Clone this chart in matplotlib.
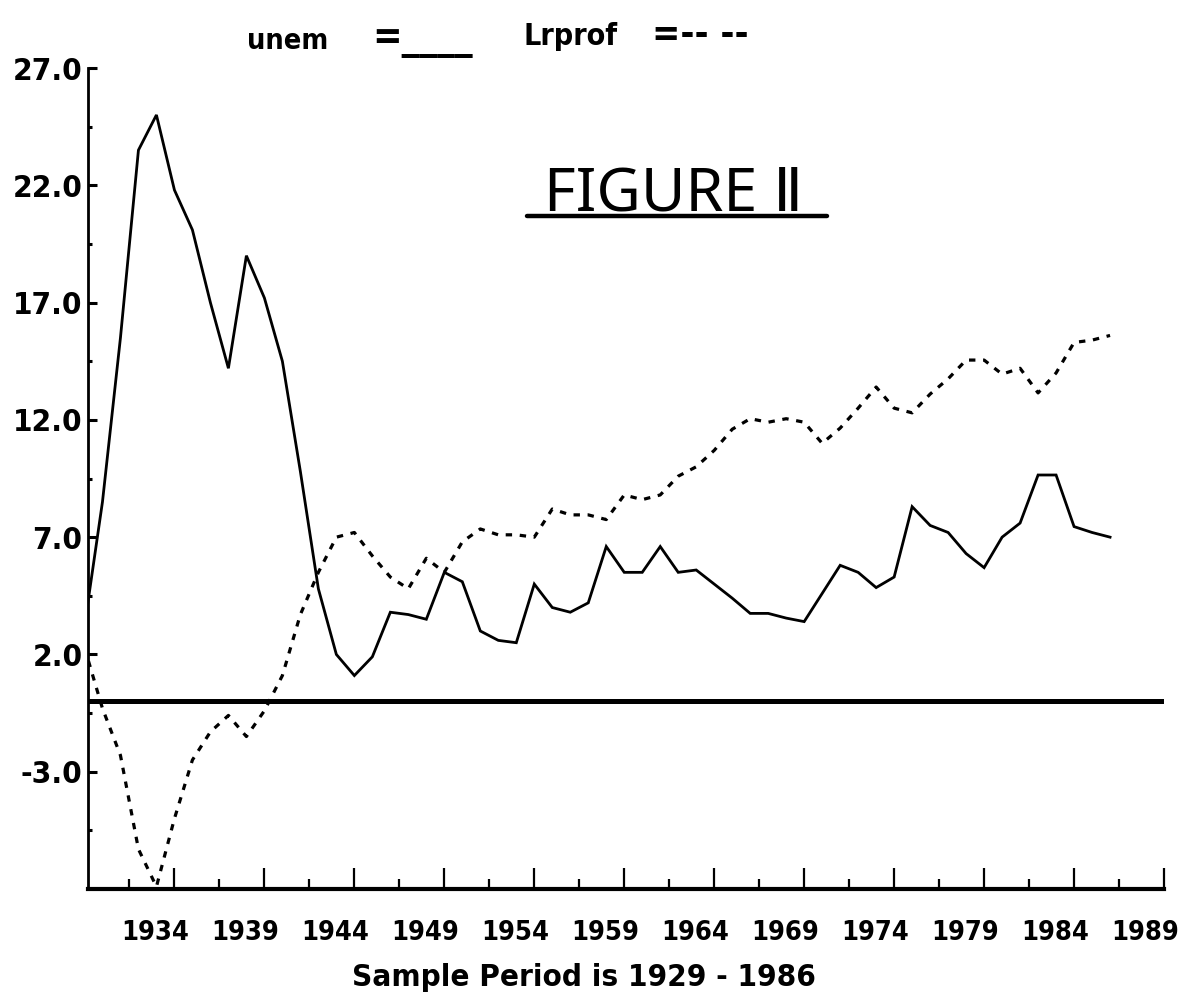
# recria o gráfico "FIGURE II" (unem e Lrprof, 1929-1986)

import matplotlib
matplotlib.use("Agg")
import matplotlib.pyplot as plt
from matplotlib import font_manager
from matplotlib.font_manager import FontProperties
from matplotlib.transforms import ScaledTranslation
from matplotlib.lines import Line2D
from matplotlib.ticker import FixedLocator, FormatStrFormatter

# dados (valores anuais)
anos = list(range(1929, 1987))

unem = [3.2, 8.5, 15.5, 23.5, 25.0, 21.8, 20.1, 17.0, 14.2, 19.0,
        17.2, 14.5, 9.8, 4.8, 2.0, 1.1, 1.9, 3.8, 3.7, 3.5,
        5.5, 5.1, 3.0, 2.6, 2.5, 5.0, 4.0, 3.8, 4.2, 6.6,
        5.5, 5.5, 6.6, 5.5, 5.6, 5.0, 4.4, 3.75, 3.75, 3.55,
        3.4, 4.6, 5.8, 5.5, 4.85, 5.3, 8.3, 7.5, 7.2, 6.3,
        5.7, 7.0, 7.6, 9.65, 9.65, 7.45, 7.2, 7.0]

lrprof = [2.3, -0.3, -2.3, -6.3, -7.9, -5.0, -2.5, -1.3, -0.6, -1.5,
          -0.4, 1.1, 3.7, 5.5, 7.0, 7.2, 6.2, 5.3, 4.8, 6.1,
          5.5, 6.8, 7.35, 7.1, 7.1, 7.0, 8.2, 7.95, 7.95, 7.75,
          8.8, 8.6, 8.8, 9.6, 10.0, 10.7, 11.6, 12.05, 11.9, 12.05,
          11.9, 11.0, 11.65, 12.5, 13.4, 12.5, 12.3, 13.1, 13.75, 14.55,
          14.55, 13.95, 14.2, 13.15, 14.0, 15.3, 15.4, 15.6]

ticks_x = [1934, 1939, 1944, 1949, 1954, 1959, 1964, 1969, 1974, 1979, 1984, 1989]
ticks_x_menores = [1931.5, 1936.5, 1941.5, 1946.5, 1951.5, 1956.5, 1961.5,
                   1966.5, 1971.5, 1976.5, 1981.5, 1986.5]
ticks_y = [27.0, 22.0, 17.0, 12.0, 7.0, 2.0, -3.0]
ticks_y_menores = [24.5, 19.5, 14.5, 9.5, 4.5, -0.5, -5.5]


# procura uma fonte estreita (narrow / condensed), de preferencia em negrito
def acha_fonte_estreita():
    melhor = None
    melhor_nota = -1
    for f in font_manager.fontManager.ttflist:
        nome = (f.name + " " + f.fname).lower()
        estreita = ("narrow" in nome or "condensed" in nome
                    or f.stretch in ("condensed", "semi-condensed", "extra-condensed", "ultra-condensed"))
        if not estreita or f.style != "normal":
            continue
        peso = f.weight if isinstance(f.weight, int) else (700 if "bold" in str(f.weight) else 400)
        nota = 10
        if peso >= 600:
            nota += 5
        if "extra" in nome or "ultra" in nome or "semi" in nome:
            nota -= 2
        if "black" in nome or "heavy" in nome:
            nota -= 3
        if nota > melhor_nota:
            melhor, melhor_nota = f, nota
    if melhor is None:
        return FontProperties(family="DejaVu Sans", weight="bold")
    return FontProperties(fname=melhor.fname)


FONTE = acha_fonte_estreita()
plt.rcParams["axes.unicode_minus"] = False

fig = plt.figure(figsize=(11.82, 9.99), dpi=100)
ax = fig.add_axes([0.0745, 0.1101, 0.9103, 0.8218])
renderer = fig.canvas.get_renderer()


# tamanho de fonte para que o texto tenha a largura desejada (em pixels)
def tamanho_para(texto, largura, fp, maximo):
    t = fig.text(0, 0, texto, fontproperties=fp, fontsize=10)
    w = t.get_window_extent(renderer).width
    t.remove()
    return min(10 * largura / w, maximo)


ax.plot(anos, unem, color="black", lw=2.0, solid_joinstyle="miter")
ax.plot(anos, lrprof, color="black", lw=2.3, linestyle=(0, (2.0, 2.4)))
ax.axhline(0, color="black", lw=3.6)

ax.set_xlim(1929.2, 1989)
ax.set_ylim(-8, 27)

for lado in ["top", "right"]:
    ax.spines[lado].set_visible(False)
ax.spines["left"].set_linewidth(2.0)
ax.spines["bottom"].set_linewidth(3.0)

ax.xaxis.set_major_locator(FixedLocator(ticks_x))
ax.xaxis.set_minor_locator(FixedLocator(ticks_x_menores))
ax.yaxis.set_major_locator(FixedLocator(ticks_y))
ax.yaxis.set_minor_locator(FixedLocator(ticks_y_menores))
ax.yaxis.set_major_formatter(FormatStrFormatter("%.1f"))

ax.tick_params(axis="x", which="major", direction="in", length=15, width=1.6, pad=22)
ax.tick_params(axis="x", which="minor", direction="in", length=7, width=1.6)
ax.tick_params(axis="y", which="major", direction="in", length=6.5, width=2.2, pad=4)
ax.tick_params(axis="y", which="minor", direction="in", length=3, width=2.2)

tam_x = tamanho_para("1934", 68, FONTE, 32)
tam_y = tamanho_para("27.0", 70, FONTE, 30)
for rotulo in ax.get_xticklabels():
    rotulo.set_fontproperties(FONTE)
    rotulo.set_fontsize(tam_x)
    rotulo.set_transform(rotulo.get_transform() + ScaledTranslation(-0.19, 0, fig.dpi_scale_trans))
for rotulo in ax.get_yticklabels():
    rotulo.set_fontproperties(FONTE)
    rotulo.set_fontsize(tam_y)

# legenda feita com texto, como no original
tam_leg = tamanho_para("Lrprof", 94, FONTE, 30)
fig.text(0.209, 0.951, "unem", fontproperties=FONTE, fontsize=tam_leg * 0.95, va="baseline")
fig.text(0.315, 0.951, "=____", fontproperties=FONTE,
         fontsize=tamanho_para("=____", 101, FONTE, 30), va="baseline")
fig.text(0.4425, 0.955, "Lrprof", fontproperties=FONTE, fontsize=tam_leg, va="baseline")
fig.text(0.552, 0.955, "=-- --", fontproperties=FONTE,
         fontsize=tamanho_para("=-- --", 96, FONTE, 30), va="baseline")

# titulo escrito a mao
fp_titulo = FontProperties(family=["Noto Sans", "DejaVu Sans"])
fig.text(0.570, 0.789, "FIGURE Ⅱ", fontproperties=fp_titulo,
         fontsize=tamanho_para("FIGURE Ⅱ", 268, fp_titulo, 44), ha="center", va="baseline")
fig.add_artist(Line2D([0.446, 0.700], [0.784, 0.784], color="black", lw=3.2,
                      solid_capstyle="round", transform=fig.transFigure))

fig.text(0.494, 0.013, "Sample Period is 1929 - 1986", fontproperties=FONTE,
         fontsize=tamanho_para("Sample Period is 1929 - 1986", 462, FONTE, 30),
         ha="center", va="baseline")

plt.savefig("out.png", dpi=100, facecolor="white")
